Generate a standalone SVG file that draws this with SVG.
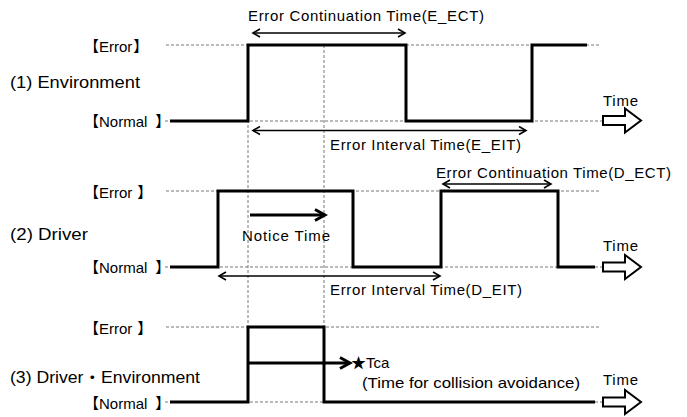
<svg xmlns="http://www.w3.org/2000/svg" width="687" height="417" viewBox="0 0 687 417">
<defs>
<marker id="ah" markerWidth="10" markerHeight="10" refX="8" refY="5" orient="auto-start-reverse" markerUnits="userSpaceOnUse">
<path d="M1,1 L8,5 L1,9" fill="none" stroke="#000" stroke-width="1.6"/>
</marker>
<marker id="ahb" markerWidth="14" markerHeight="14" refX="11" refY="7" orient="auto" markerUnits="userSpaceOnUse">
<path d="M1,1.5 L11,7 L1,12.5" fill="none" stroke="#000" stroke-width="3"/>
</marker>
<path id="timearrow" d="M0,-4.5 L22,-4.5 L22,-12 L38,0 L22,12 L22,4.5 L0,4.5 Z" fill="#fff" stroke="#000" stroke-width="2"/>
</defs>
<style>
text{font-family:"Liberation Sans","Noto Sans CJK JP",sans-serif;font-size:15px;fill:#000}
.side{font-size:16px}
.dash{stroke:#777;stroke-width:1;stroke-dasharray:3 2;fill:none}
.sig{stroke:#000;stroke-width:3;fill:none}
.thin{stroke:#000;stroke-width:1.3;fill:none;marker-start:url(#ah);marker-end:url(#ah)}
.thick{stroke:#000;stroke-width:3;fill:none;marker-end:url(#ahb)}
</style>
<rect width="687" height="417" fill="#fff"/>

<g id="gridlines">
<line class="dash" x1="166" y1="45" x2="600" y2="45"/>
<line class="dash" x1="165" y1="121" x2="603" y2="121"/>
<line class="dash" x1="166" y1="191" x2="600" y2="191"/>
<line class="dash" x1="165" y1="267" x2="603" y2="267"/>
<line class="dash" x1="166" y1="327" x2="600" y2="327"/>
<line class="dash" x1="165" y1="402" x2="603" y2="402"/>
<line class="dash" x1="248" y1="45" x2="248" y2="402"/>
<line class="dash" x1="324" y1="45" x2="324" y2="402"/>
</g>

<g id="env">
<text class="side" x="10" y="88" textLength="130" lengthAdjust="spacingAndGlyphs">(1) Environment</text>
<text x="84" y="52">【<tspan>Error</tspan><tspan dx="1">】</tspan></text>
<text x="84" y="127">【<tspan>Normal</tspan><tspan dx="8">】</tspan></text>
<path class="sig" d="M170,121 H248 V45 H406 V121 H532 V45 H587"/>
<use href="#timearrow" x="603" y="120.5"/>
<text x="603" y="106" textLength="35">Time</text>
</g>

<g id="driver">
<text class="side" x="10" y="240" textLength="78" lengthAdjust="spacingAndGlyphs">(2) Driver</text>
<text x="84" y="198">【<tspan>Error</tspan><tspan dx="5">】</tspan></text>
<text x="84" y="273">【<tspan>Normal</tspan><tspan dx="8">】</tspan></text>
<path class="sig" d="M170,267 H218 V191 H353 V267 H441 V191 H558 V267 H595"/>
<use href="#timearrow" x="603" y="267"/>
<text x="603" y="251" textLength="35">Time</text>
<text x="242" y="241" textLength="88">Notice Time</text>
</g>

<g id="driverenv">
<text class="side" x="10" y="383" textLength="190" lengthAdjust="spacingAndGlyphs">(3) Driver・Environment</text>
<text x="84" y="334">【<tspan>Error</tspan><tspan dx="5">】</tspan></text>
<text x="84" y="409">【<tspan>Normal</tspan><tspan dx="8">】</tspan></text>
<path class="sig" d="M170,402 H248 V327 H324 V402 H595"/>
<use href="#timearrow" x="603" y="402"/>
<text x="603" y="385" textLength="35">Time</text>
<text x="351" y="368">★Tca</text>
<text x="362" y="388" textLength="218" lengthAdjust="spacingAndGlyphs">(Time for collision avoidance)</text>
</g>

<g id="connectors">
<line class="thin" x1="253" y1="33" x2="405" y2="33"/>
<line class="thin" x1="253" y1="130.5" x2="526" y2="130.5"/>
<line class="thin" x1="443" y1="184" x2="551" y2="184"/>
<line class="thin" x1="219" y1="276" x2="440" y2="276"/>
<line class="thick" x1="250" y1="215" x2="325" y2="215"/>
<line class="thick" x1="248" y1="363" x2="350" y2="363"/>
</g>

<g id="labels">
<text x="248" y="21" textLength="236">Error Continuation Time(E_ECT)</text>
<text x="330" y="150" textLength="191">Error Interval Time(E_EIT)</text>
<text x="436" y="178" textLength="235">Error Continuation Time(D_ECT)</text>
<text x="330" y="295" textLength="192">Error Interval Time(D_EIT)</text>
</g>
</svg>
